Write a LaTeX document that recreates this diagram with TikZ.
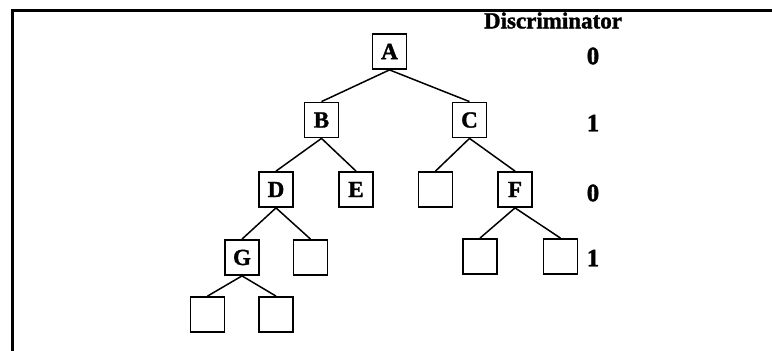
\documentclass[tikz,border=0pt]{standalone}
\usepackage{fontspec}
\setmainfont{Liberation Serif}
\newfontfamily\heavyserif[FakeBold=1.5]{Liberation Serif}
\begin{document}
\begin{tikzpicture}[x=1pt,y=-1pt,
  treebox/.style={draw, line width=1.8pt, minimum width=34pt, minimum height=35pt, inner sep=0pt, font=\fontsize{23}{23}\heavyserif\bfseries},
  edge/.style={line width=1.5pt},
  frame/.style={line width=3pt},
  disc/.style={inner sep=0pt, font=\fontsize{25}{25}\heavyserif\bfseries}]
\useasboundingbox (0,0) rectangle (772,351);
% frame
\coordinate (tl) at (12,10);
\coordinate (tr) at (772,10);
\coordinate (bl) at (12,351);
\draw[frame] (tr) -- (tl) -- (bl);
% tree nodes
\node[treebox] (A) at (389.5,51.5) {A};
\node[treebox] (B) at (321.5,120) {B};
\node[treebox] (C) at (469.5,120) {C};
\node[treebox] (D) at (276,189.5) {D};
\node[treebox] (E) at (356,189.5) {E};
\node[treebox] (C1) at (435.5,189.5) {};
\node[treebox] (F) at (515,189.5) {F};
\node[treebox] (G) at (242,257.5) {G};
\node[treebox] (D2) at (310.5,257.5) {};
\node[treebox] (F1) at (480,256.5) {};
\node[treebox] (F2) at (560.5,256.5) {};
\node[treebox] (G1) at (207.5,314.5) {};
\node[treebox] (G2) at (276,314.5) {};
% edges
\draw[edge] (A.south) -- (B.north);
\draw[edge] (A.south) -- (C.north);
\draw[edge] (B.south) -- (D.north);
\draw[edge] (B.south) -- (E.north);
\draw[edge] (C.south) -- (C1.north);
\draw[edge] (C.south) -- (F.north);
\draw[edge] (D.south) -- (G.north);
\draw[edge] (D.south) -- (D2.north);
\draw[edge] (F.south) -- (F1.north);
\draw[edge] (F.south) -- (F2.north);
\draw[edge] (G.south) -- (G1.north);
\draw[edge] (G.south) -- (G2.north);
% discriminator column
\node[inner sep=0pt, font=\fontsize{23}{23}\heavyserif\bfseries] (title) at (553,20.5) {Discriminator};
\node[disc] (d0) at (593,56) {0};
\node[disc] (d1) at (593,123) {1};
\node[disc] (d2) at (593,193) {0};
\node[disc] (d3) at (593,258) {1};
\end{tikzpicture}
\end{document}
